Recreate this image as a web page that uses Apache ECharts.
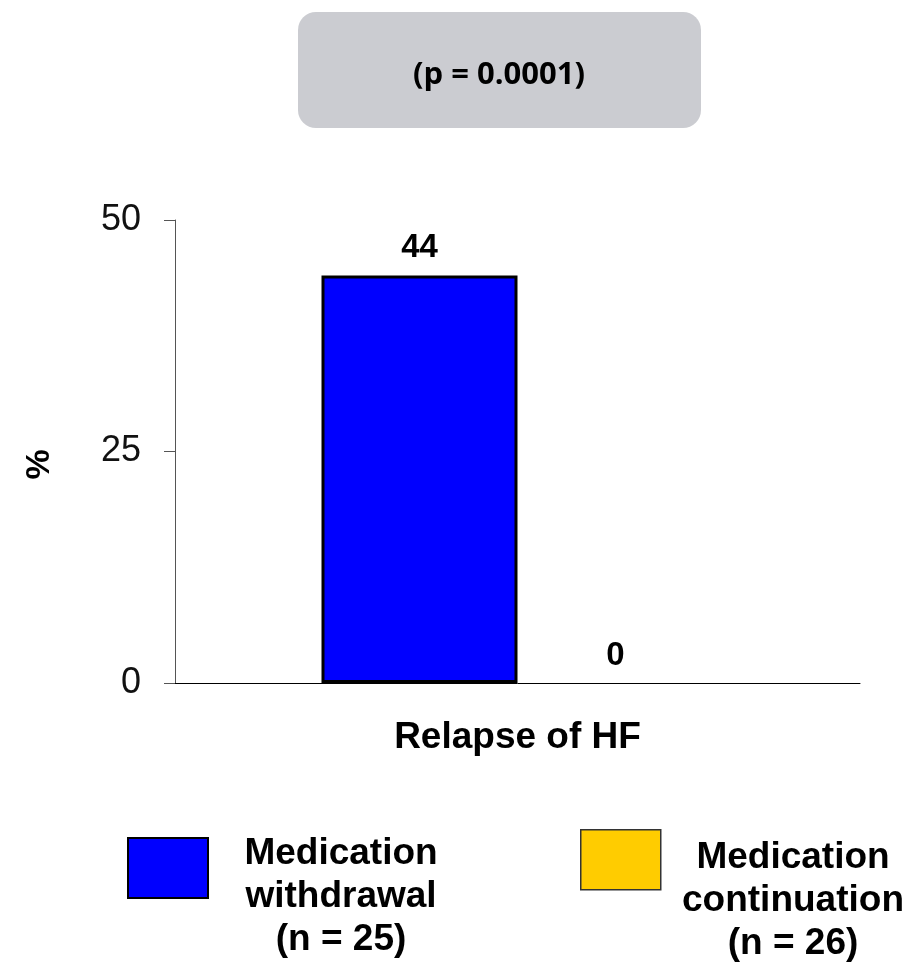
<!DOCTYPE html>
<html>
<head>
<meta charset="utf-8">
<script src="https://cdn.jsdelivr.net/npm/echarts@6/dist/echarts.min.js"></script>
<style>
  html, body { margin: 0; padding: 0; background: #fff; }
  #main { width: 909px; height: 967px; }
</style>
</head>
<body>
<div id="main"></div>
<script>
// data
const categories = ['Relapse of HF'];
const withdrawalValues = [44];
const continuationValues = [0];
const yTicks = [0, 25, 50];
const seriesNames = ['Medication withdrawal', 'Medication continuation'];
const legendLines = [
    ['Medication', 'withdrawal', '(n = 25)'],
    ['Medication', 'continuation', '(n = 26)']
];
const pValueText = '(p = 0.0001)';

const colors = ['#0000ff', '#ffcc00'];
const bold = 'Liberation Sans, Arial, sans-serif';

const chart = echarts.init(document.getElementById('main'), null, { renderer: 'canvas' });

const labelStyle = {
    show: true,
    position: 'top',
    distance: 11,
    fontFamily: bold,
    fontWeight: 'bold',
    fontSize: 33,
    color: '#000'
};

chart.setOption({
    animation: false,
    backgroundColor: '#fff',
    grid: { left: 175, right: 49, top: 220, bottom: 284 },
    xAxis: {
        type: 'category',
        data: categories,
        axisLine: { lineStyle: { color: '#000', width: 1 } },
        axisTick: { show: false },
        axisLabel: {
            margin: 36,
            fontFamily: bold,
            fontWeight: 'bold',
            fontSize: 37,
            color: '#000'
        }
    },
    yAxis: {
        type: 'value',
        min: yTicks[0],
        max: yTicks[yTicks.length - 1],
        interval: yTicks[1] - yTicks[0],
        name: '%',
        nameLocation: 'middle',
        nameGap: 118,
        nameRotate: 90,
        nameTextStyle: {
            fontFamily: bold, fontWeight: 'bold', fontSize: 34, color: '#000',
            padding: [0, 26, 0, 0]
        },
        axisLine: { show: true, lineStyle: { color: '#555', width: 1 } },
        axisTick: { show: true, length: 11, lineStyle: { color: '#555' } },
        splitLine: { show: false },
        axisLabel: {
            margin: 34,
            fontFamily: bold,
            fontSize: 36,
            color: '#111',
            padding: [6, 0, 0, 0]
        }
    },
    series: [
        {
            name: seriesNames[0],
            type: 'bar',
            data: withdrawalValues,
            barWidth: 196,
            barGap: '0%',
            itemStyle: { color: colors[0], borderColor: '#000', borderWidth: 3 },
            label: labelStyle
        },
        {
            name: seriesNames[1],
            type: 'bar',
            data: continuationValues,
            barWidth: 196,
            itemStyle: { color: colors[1], borderColor: '#000', borderWidth: 0 },
            label: labelStyle
        }
    ],
    graphic: [
        {
            type: 'rect',
            left: 298, top: 12,
            shape: { width: 403, height: 116, r: 18 },
            style: { fill: '#cbccd1' }
        },
        {
            type: 'text',
            x: 499, y: 75,
            style: {
                text: pValueText,
                align: 'center', verticalAlign: 'middle',
                font: 'bold 31px "Open Sans", sans-serif',
                fill: '#000'
            }
        },
        // legend boxes
        {
            type: 'rect',
            left: 127, top: 837,
            shape: { width: 80, height: 60 },
            style: { fill: colors[0], stroke: '#000', lineWidth: 2 }
        },
        {
            type: 'rect',
            left: 580, top: 829,
            shape: { width: 80, height: 60 },
            style: { fill: colors[1], stroke: '#333', lineWidth: 1.5 }
        },
        {
            type: 'text',
            x: 341, y: 897,
            style: {
                text: legendLines[0].join('\n'),
                align: 'center', verticalAlign: 'middle',
                font: 'bold 37px "Liberation Sans", Arial, sans-serif',
                lineHeight: 43,
                fill: '#000'
            }
        },
        {
            type: 'text',
            x: 793, y: 901,
            style: {
                text: legendLines[1].join('\n'),
                align: 'center', verticalAlign: 'middle',
                font: 'bold 37px "Liberation Sans", Arial, sans-serif',
                lineHeight: 43,
                fill: '#000'
            }
        }
    ]
});
</script>
</body>
</html>
